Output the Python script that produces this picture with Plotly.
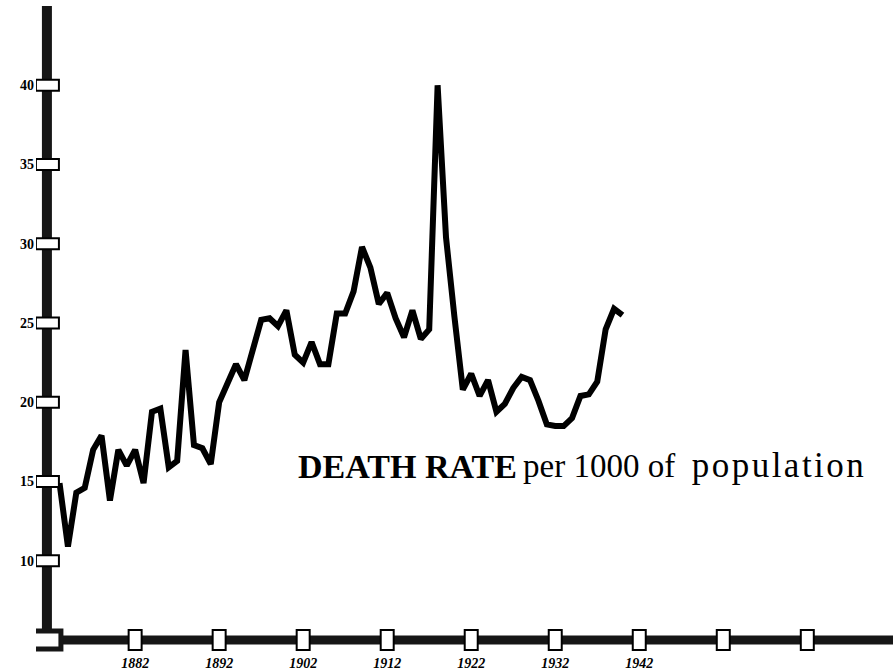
import plotly.graph_objects as go

# ---- data ----
years = list(range(1873, 1941))
death_rate = [
    14.9, 10.9, 14.3, 14.6, 17.0, 17.9, 13.8, 17.0, 16.0, 17.0,   # 1873-1882
    14.9, 19.4, 19.6, 15.9, 16.3, 23.3, 17.3, 17.1, 16.1, 20.0,   # 1883-1892
    21.2, 22.4, 21.4, 23.3, 25.2, 25.3, 24.8, 25.8, 23.0, 22.5,   # 1893-1902
    23.8, 22.4, 22.4, 25.6, 25.6, 27.0, 29.8, 28.5, 26.2, 26.9,   # 1903-1912
    25.3, 24.1, 25.8, 24.0, 24.6, 40.0, 30.4, 25.4, 20.8, 21.8,   # 1913-1922
    20.4, 21.4, 19.4, 19.9, 20.9, 21.6, 21.4, 20.1, 18.6, 18.5,   # 1923-1932
    18.5, 19.0, 20.4, 20.5, 21.3, 24.6, 25.9, 25.5,               # 1933-1940
]

x_tick_positions = [1882, 1892, 1902, 1912, 1922, 1932, 1942, 1952, 1962]
x_tick_labels = ["1882", "1892", "1902", "1912", "1922", "1932", "1942", "", ""]
y_tick_values = [10, 15, 20, 25, 30, 35, 40]
y_tick_labels = ["10", "15", "20", "25", "30", "35", "40"]

title_main = "DEATH RATE"
title_sub_words = ["per", "1000", "of", "population"]

# ---- layout constants ----
X_RANGE = [1870.2, 1972.2]
Y_RANGE = [4.12, 45.38]
ORIGIN_X = 1871.5
ORIGIN_Y = 5
AXIS_TOP = 45.0
BAR_COLOR = "#161616"

sub_text = (title_sub_words[0] + "\u00a0" + title_sub_words[1] + "\u00a0" + title_sub_words[2]
            + "\u00a0\u00a0" + '<span style="font-size:35px;letter-spacing:2.5px">'
            + title_sub_words[3] + "</span>")

fig = go.Figure()
fig.add_trace(go.Scatter(
    x=years, y=death_rate, mode="lines",
    line=dict(color="black", width=6),
    hoverinfo="skip", showlegend=False,
))

shapes = []
# axis bars
shapes.append(dict(type="line", xref="x", yref="y", x0=ORIGIN_X, x1=ORIGIN_X,
                   y0=ORIGIN_Y, y1=AXIS_TOP, line=dict(color=BAR_COLOR, width=10), layer="above"))
shapes.append(dict(type="line", xref="x", yref="y", x0=ORIGIN_X, x1=X_RANGE[1],
                   y0=ORIGIN_Y, y1=ORIGIN_Y, line=dict(color=BAR_COLOR, width=9), layer="above"))
# x tick boxes
for xv in x_tick_positions:
    shapes.append(dict(type="rect", xref="x", yref="y", xsizemode="pixel", ysizemode="pixel",
                       xanchor=xv, yanchor=ORIGIN_Y, x0=-6.5, x1=6.5, y0=-10, y1=10,
                       fillcolor="white", line=dict(color="black", width=2), layer="above"))
# y tick boxes
for yv in y_tick_values:
    shapes.append(dict(type="rect", xref="x", yref="y", xsizemode="pixel", ysizemode="pixel",
                       xanchor=ORIGIN_X, yanchor=yv, x0=-11, x1=12, y0=-5.5, y1=5.5,
                       fillcolor="white", line=dict(color="black", width=2), layer="above"))
# origin box
shapes.append(dict(type="rect", xref="x", yref="y", xsizemode="pixel", ysizemode="pixel",
                   xanchor=ORIGIN_X, yanchor=ORIGIN_Y, x0=-14, x1=14, y0=-9, y1=9,
                   fillcolor="white", line=dict(color=BAR_COLOR, width=5), layer="above"))

fig.update_layout(
    width=893, height=672,
    margin=dict(l=36, r=0, t=0, b=18),
    paper_bgcolor="white", plot_bgcolor="white",
    shapes=shapes,
    xaxis=dict(range=X_RANGE, showgrid=False, zeroline=False, showline=False,
               ticks="", tickvals=x_tick_positions, ticktext=x_tick_labels,
               tickfont=dict(family="Liberation Serif", size=14, color="black",
                             style="italic", weight="bold"),
               ticklabelstandoff=-1),
    yaxis=dict(range=Y_RANGE, showgrid=False, zeroline=False, showline=False,
               ticks="", tickvals=y_tick_values, ticktext=y_tick_labels,
               tickfont=dict(family="Liberation Serif", size=14, color="black", weight="bold"),
               ticklabelstandoff=1),
    annotations=[
        dict(text=title_main, xref="paper", yref="paper", x=0.3035, y=0.255,
             xanchor="left", yanchor="bottom", showarrow=False,
             font=dict(family="Liberation Serif", size=34, color="black", weight="bold")),
        dict(text=sub_text, xref="paper", yref="paper", x=0.566, y=0.255,
             xanchor="left", yanchor="bottom", showarrow=False,
             font=dict(family="Liberation Serif", size=33, color="black")),
    ],
)

fig.write_html("out.html", config={"displayModeBar": False},
               post_script="document.body.style.margin='0';document.body.style.padding='0';")
